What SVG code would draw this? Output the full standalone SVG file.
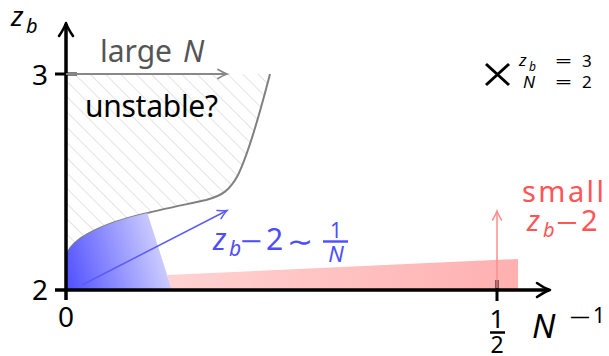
<svg xmlns="http://www.w3.org/2000/svg" width="609" height="356" viewBox="0 0 609 356">
<style>
text{font-family:'Noto Sans','Open Sans',sans-serif;}
.it{font-style:italic;}
.axis{stroke:#000;stroke-width:3.5;fill:none;}
.tick{stroke:#000;stroke-width:3;fill:none;}
</style>
<defs>
<pattern id="hatch" patternUnits="userSpaceOnUse" width="10.8" height="10.8" patternTransform="rotate(-45)">
<line x1="0" y1="0" x2="0" y2="10.8" stroke="#cccccc" stroke-width="1.1"/>
</pattern>
<linearGradient id="blueg" gradientUnits="userSpaceOnUse" x1="66" y1="270" x2="172" y2="240">
<stop offset="0" stop-color="#5555ff"/>
<stop offset="1" stop-color="#dcdcff"/>
</linearGradient>
<linearGradient id="pinkg" gradientUnits="userSpaceOnUse" x1="170" y1="262" x2="518" y2="290">
<stop offset="0" stop-color="#ffd2d2"/>
<stop offset="1" stop-color="#ffb0b0"/>
</linearGradient>
<clipPath id="below">
<path d="M66,256 C70,244 82,236 100,228 C125,216 175,207 206,200 L206,300 L60,300 L60,256 Z"/>
</clipPath>
<marker id="ahBlack" markerUnits="userSpaceOnUse" viewBox="-16 -10 20 20" refX="0" refY="0" markerWidth="20" markerHeight="20" orient="auto">
<path d="M-13,-7 Q-5,-1.5 0,0 Q-5,1.5 -13,7" fill="none" stroke="#000" stroke-width="2.6" stroke-linecap="round" stroke-linejoin="round"/>
</marker>
<marker id="ahGray" markerUnits="userSpaceOnUse" viewBox="-12 -8 16 16" refX="0" refY="0" markerWidth="16" markerHeight="16" orient="auto">
<path d="M-9,-4.5 Q-3,-1 0,0 Q-3,1 -9,4.5" fill="none" stroke="#888" stroke-width="1.8" stroke-linecap="round"/>
</marker>
<marker id="ahBlue" markerUnits="userSpaceOnUse" viewBox="-12 -8 16 16" refX="0" refY="0" markerWidth="16" markerHeight="16" orient="auto">
<path d="M-9,-4.5 Q-3,-1 0,0 Q-3,1 -9,4.5" fill="none" stroke="#5a5aff" stroke-width="1.5" stroke-linecap="round"/>
</marker>
<marker id="ahPink" markerUnits="userSpaceOnUse" viewBox="-12 -8 16 16" refX="0" refY="0" markerWidth="16" markerHeight="16" orient="auto">
<path d="M-9,-4.5 Q-3,-1 0,0 Q-3,1 -9,4.5" fill="none" stroke="#ff8c8c" stroke-width="1.5" stroke-linecap="round"/>
</marker>
</defs>

<g id="unstable-region">
<path d="M66,74 L270,74 C262,105 250,150 238,175 C230,190 222,196 206,200 C175,207 125,216 100,228 C82,236 70,244 66,256 Z" fill="url(#hatch)"/>
<path d="M270,74 C262,105 250,150 238,175 C230,190 222,196 206,200 C175,207 125,216 100,228 C82,236 70,244 66,256" fill="none" stroke="#808080" stroke-width="2"/>
</g>

<g id="large-N-region">
<polygon points="66,195 141.6,195 172,290 66,290" fill="url(#blueg)" clip-path="url(#below)"/>
</g>

<g id="small-zb-region">
<polygon points="167,275 518,259 518,290 172,290" fill="url(#pinkg)"/>
</g>

<g id="axes">
<line class="axis" x1="66" y1="300" x2="66" y2="24"/>
<line class="axis" x1="55" y1="290" x2="549" y2="290"/>
<path d="M55,74 H77 M497,280 V301" class="tick"/>
<path d="M66,24 l0,-1" stroke="none" marker-end="url(#ahBlack)"/>
<path d="M549,290 l1,0" stroke="none" marker-end="url(#ahBlack)"/>
</g>

<g id="connectors">
<line x1="66" y1="74" x2="227" y2="74" stroke="#888" stroke-width="2" marker-end="url(#ahGray)"/>
<line x1="82" y1="285" x2="227" y2="210.5" stroke="#5a5aff" stroke-width="1.5" marker-end="url(#ahBlue)"/>
<line x1="497" y1="288" x2="497" y2="211" stroke="#ff8c8c" stroke-width="1.5" marker-end="url(#ahPink)"/>
</g>

<g id="axis-labels">
<text class="it" x="11" y="26" font-size="28">z</text>
<text class="it" x="26" y="33" font-size="20">b</text>
<text x="48" y="85" font-size="28" text-anchor="end">3</text>
<text x="48" y="300" font-size="28" text-anchor="end">2</text>
<text x="66" y="327" font-size="28" text-anchor="middle">0</text>
<text x="497" y="328" font-size="26" text-anchor="middle">1</text>
<line x1="490" y1="332.5" x2="505" y2="332.5" stroke="#000" stroke-width="2.5"/>
<text x="497" y="353" font-size="23" text-anchor="middle">2</text>
<text class="it" x="532" y="338" font-size="33">N</text>
<text x="569" y="325" font-size="21" textLength="22" lengthAdjust="spacingAndGlyphs">−</text>
<text x="593" y="323" font-size="21">1</text>
</g>

<g id="large-N-label" fill="#555">
<text x="100" y="62" font-size="30">large</text>
<text class="it" x="183" y="62" font-size="30">N</text>
</g>

<g id="unstable-label">
<text x="85" y="117" font-size="30" textLength="133" lengthAdjust="spacing">unstable?</text>
</g>

<g id="blue-label" fill="#4d4dff">
<text class="it" x="213" y="250" font-size="30">z</text>
<text class="it" x="229" y="256" font-size="21">b</text>
<text x="240" y="252" font-size="30" textLength="22" lengthAdjust="spacingAndGlyphs">−</text>
<text x="266" y="250" font-size="30">2</text>
<text x="287" y="252" font-size="30" textLength="26" lengthAdjust="spacingAndGlyphs">∼</text>
<text x="336" y="238" font-size="21" text-anchor="middle">1</text>
<line x1="323" y1="241.5" x2="348" y2="241.5" stroke="#4d4dff" stroke-width="2.4"/>
<text class="it" x="336" y="262" font-size="22" text-anchor="middle">N</text>
</g>

<g id="red-label" fill="#ff5555">
<text x="522" y="202" font-size="29" textLength="82" lengthAdjust="spacing">small</text>
<text class="it" x="527" y="231" font-size="29">z</text>
<text class="it" x="543" y="237" font-size="20">b</text>
<text x="556" y="233" font-size="29" textLength="22" lengthAdjust="spacingAndGlyphs">−</text>
<text x="581" y="231" font-size="29">2</text>
</g>

<g id="point-N2">
<path d="M486,64 L509,85 M509,64 L486,85" stroke="#000" stroke-width="3" fill="none"/>
<text class="it" x="519" y="66" font-size="17">z</text>
<text class="it" x="529" y="71" font-size="12">b</text>
<text x="555" y="67" font-size="17" textLength="17" lengthAdjust="spacingAndGlyphs">=</text>
<text x="582" y="67" font-size="17">3</text>
<text class="it" x="523" y="88" font-size="17">N</text>
<text x="555" y="88" font-size="17" textLength="17" lengthAdjust="spacingAndGlyphs">=</text>
<text x="582" y="88" font-size="17">2</text>
</g>
</svg>
